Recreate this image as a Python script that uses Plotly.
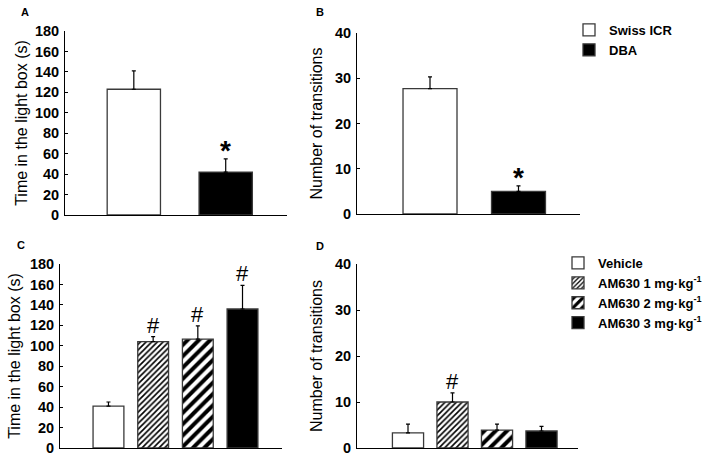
import plotly.graph_objects as go

# ---------------- data ----------------
strains = ["Swiss ICR", "DBA"]
time_strain = [123, 42]
time_strain_err = [18, 13]
trans_strain = [27.7, 5.0]
trans_strain_err = [2.6, 1.2]

groups = ["Vehicle", "AM630 1 mg·kg<sup>-1</sup>", "AM630 2 mg·kg<sup>-1</sup>", "AM630 3 mg·kg<sup>-1</sup>"]
group_keys = ["Vehicle", "AM630 1", "AM630 2", "AM630 3"]
time_am = [41, 104, 106.5, 136]
time_am_err = [4, 5, 13, 23]
trans_am = [3.3, 10.0, 3.9, 3.7]
trans_am_err = [1.9, 2.0, 1.3, 1.0]

sig_time_am = ["", "#", "#", "#"]
sig_trans_am = ["", "#", "", ""]
sig_time_strain = ["", "*"]
sig_trans_strain = ["", "*"]

ticks_time = [0, 20, 40, 60, 80, 100, 120, 140, 160, 180]
ticks_trans = [0, 10, 20, 30, 40]

# ---------------- styles ----------------
FONT = "Liberation Sans"
W, H = 709, 462
strain_style = [
    dict(color="white", pattern=None),
    dict(color="black", pattern=None),
]
am_style = [
    dict(color="white", pattern=None),
    dict(color="white", pattern=dict(shape="/", size=4, solidity=0.4, fgcolor="black",
                                     bgcolor="white", fgopacity=1)),
    dict(color="white", pattern=dict(shape="/", size=8, solidity=0.5, fgcolor="black",
                                     bgcolor="white", fgopacity=1)),
    dict(color="black", pattern=None),
]

fig = go.Figure()


def px_x(a, b):
    return [a / W, b / W]


def px_y(top, bottom):
    return [1 - bottom / H, 1 - top / H]


def add_bars(cats, names, vals, errs, styles, xa, ya, legend, showlegend, width):
    for i, c in enumerate(cats):
        st = styles[i]
        marker = dict(color=st["color"], line=dict(color="#3a3a3a", width=1.3))
        if st["pattern"] is not None:
            marker["pattern"] = st["pattern"]
        fig.add_trace(go.Bar(
            x=[c], y=[vals[i]], name=names[i], width=width,
            marker=marker, xaxis=xa, yaxis=ya,
            legend=legend, showlegend=showlegend,
            error_y=dict(type="data", symmetric=False, array=[errs[i]], arrayminus=[0],
                         color="black", thickness=1.2, width=2),
            hoverinfo="skip",
        ))


def add_sig(cats, vals, errs, marks, xa, ya, size, bold, yshift):
    for i, c in enumerate(cats):
        if marks[i]:
            fig.add_annotation(
                x=c, y=vals[i] + errs[i], xref=xa, yref=ya, text=marks[i],
                showarrow=False, yanchor="bottom", yshift=yshift,
                font=dict(family=FONT, size=size, color="black",
                          weight="bold" if bold else "normal"),
            )


# Panel A
add_bars(strains, strains, time_strain, time_strain_err, strain_style, "x", "y", "legend", True, 0.58)
# Panel B
add_bars(strains, strains, trans_strain, trans_strain_err, strain_style, "x2", "y2", "legend", False, 0.61)
# Panel C
add_bars(group_keys, groups, time_am, time_am_err, am_style, "x3", "y3", "legend2", True, 0.69)
# Panel D
add_bars(group_keys, groups, trans_am, trans_am_err, am_style, "x4", "y4", "legend2", False, 0.70)

add_sig(strains, time_strain, time_strain_err, sig_time_strain, "x", "y", 28, True, -9)
add_sig(strains, trans_strain, trans_strain_err, sig_trans_strain, "x2", "y2", 28, True, -9)
add_sig(group_keys, time_am, time_am_err, sig_time_am, "x3", "y3", 22, False, -3)
add_sig(group_keys, trans_am, trans_am_err, sig_trans_am, "x4", "y4", 22, False, -3)

xcommon = dict(showline=True, linecolor="black", linewidth=1, ticks="", showticklabels=False,
               showgrid=False, zeroline=False, type="category", fixedrange=True)
ycommon = dict(showline=True, linecolor="black", linewidth=1, ticks="inside", ticklen=3,
               tickcolor="black", showgrid=False, zeroline=False, ticklabelstandoff=2,
               tickfont=dict(family=FONT, size=14.5, color="black", weight="bold"),
               title_font=dict(family=FONT, size=16, color="black"))

fig.update_layout(
    width=W, height=H,
    margin=dict(l=0, r=0, t=0, b=0, autoexpand=False),
    paper_bgcolor="white", plot_bgcolor="white",
    barmode="overlay",
    xaxis=dict(xcommon, domain=px_x(65, 287), range=[-0.749, 1.667], anchor="y"),
    yaxis=dict(ycommon, domain=px_y(31, 215), range=[0, 180], tickvals=ticks_time, anchor="x",
               title=dict(text="Time in the light box (s)", standoff=3)),
    xaxis2=dict(xcommon, domain=px_x(357, 580), range=[-0.825, 1.695], anchor="y2"),
    yaxis2=dict(ycommon, domain=px_y(33, 214), range=[0, 40], tickvals=ticks_trans, anchor="x2",
                title=dict(text="Number of transitions", standoff=8)),
    xaxis3=dict(xcommon, domain=px_x(60, 282), range=[-1.085, 3.884], anchor="y3"),
    yaxis3=dict(ycommon, domain=px_y(264, 448), range=[0, 180], tickvals=ticks_time, anchor="x3",
                title=dict(text="Time in the light box (s)", standoff=5)),
    xaxis4=dict(xcommon, domain=px_x(357, 578), range=[-1.146, 3.82], anchor="y4"),
    yaxis4=dict(ycommon, domain=px_y(264, 448), range=[0, 40], tickvals=ticks_trans, anchor="x4",
                title=dict(text="Number of transitions", standoff=8)),
    legend=dict(x=569 / W, y=1 - 15 / H, xanchor="left", yanchor="top",
                bgcolor="rgba(0,0,0,0)", borderwidth=0, itemwidth=30,
                font=dict(family=FONT, size=13, color="black", weight="bold"),
                tracegroupgap=0),
    legend2=dict(x=558 / W, y=1 - 248 / H, xanchor="left", yanchor="top",
                 bgcolor="rgba(0,0,0,0)", borderwidth=0, itemwidth=30,
                 font=dict(family=FONT, size=13, color="black", weight="bold"),
                 tracegroupgap=0),
)

for txt, x, y in [("A", 25, 12), ("B", 320, 12), ("C", 21, 245), ("D", 320, 246)]:
    fig.add_annotation(x=x / W, y=1 - y / H, xref="paper", yref="paper", text=txt,
                       showarrow=False, xanchor="center", yanchor="middle",
                       font=dict(family=FONT, size=11, color="black", weight="bold"))

fig.write_html("out.html", config={"displayModeBar": False},
               post_script="document.body.style.margin='0';")
